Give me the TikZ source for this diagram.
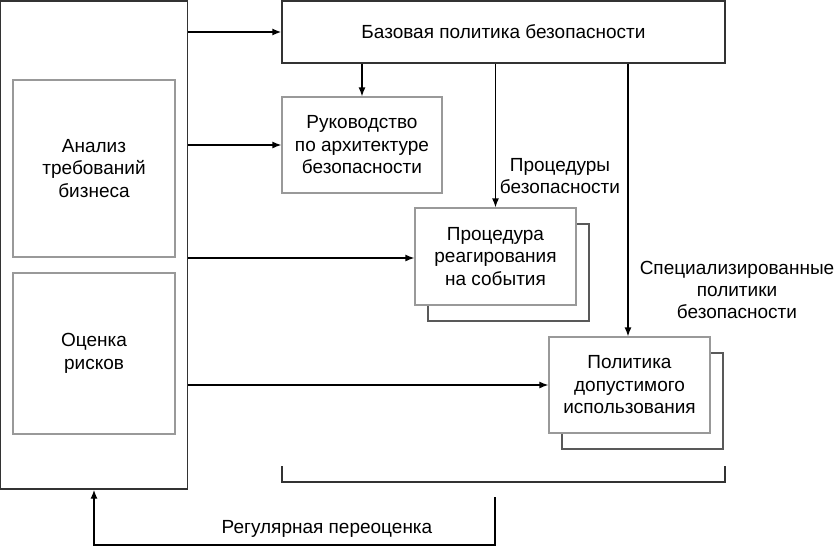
\documentclass[tikz,border=0pt]{standalone}
\usepackage{fontspec}
\setmainfont{Liberation Sans}
\usepackage{xcolor}
\usetikzlibrary{arrows.meta,positioning}
\definecolor{framegray}{gray}{0.6}
\definecolor{backgray}{gray}{0.35}
\tikzset{
  block/.style={rectangle,draw=framegray,line width=1.2pt,fill=white,align=center,
    inner sep=0pt,font=\fontsize{19}{22.5}\selectfont},
  mainblock/.style={block,draw=black!80,line width=1.4pt},
  backblock/.style={rectangle,draw=backgray,line width=1.3pt,fill=white},
  tlabel/.style={align=center,font=\fontsize{19}{22}\selectfont},
  flow/.style={-{Latex[length=9pt,width=7pt]},line width=1.4pt},
  bracket/.style={line width=1.3pt,draw=black!80}
}
\begin{document}
\begin{tikzpicture}[x=1pt,y=-1pt]
  \useasboundingbox (0,0) rectangle (835,547);
  % left column
  \node[mainblock,minimum width=187pt,minimum height=488pt] (req) at (94,245) {};
  \node[block,minimum width=162pt,minimum height=177pt] (biz) at (94,168.5) {Анализ\\требований\\бизнеса};
  \node[block,minimum width=162pt,minimum height=161pt] (risk) at (94,353.5) {Оценка\\рисков};
  % policies
  \node[mainblock,minimum width=443pt,minimum height=62pt] (base) at (503.5,32) {Базовая политика безопасности};
  \node[block,minimum width=160pt,minimum height=96pt] (arch) at (362,145) {Руководство\\по архитектуре\\безопасности};
  \node[backblock,minimum width=161pt,minimum height=97pt] (procb) at (508.5,272.5) {};
  \node[block,minimum width=161pt,minimum height=97pt] (proc) at (495.5,256.5) {Процедура\\реагирования\\на события};
  \node[backblock,minimum width=161pt,minimum height=96pt] (useb) at (642.5,401) {};
  \node[block,minimum width=161pt,minimum height=96pt] (use) at (629.5,385) {Политика\\допустимого\\использования};
  % labels
  \node[tlabel] (lproc) at (560,176) {Процедуры\\безопасности};
  \node[tlabel] (lspec) at (737,290) {Специализированные\\политики\\безопасности};
  \node[tlabel] (lrev) at (327,529) {Регулярная переоценка};
  % bracket
  \coordinate (bl) at (282,466);
  \coordinate (br) at (725,466);
  \draw[bracket] (bl) -- (282,482) -- (725,482) -- (br);
  \coordinate (rv) at (495,497);
  \coordinate (rc) at (495,545);
  % arrows
  \draw[flow] (req.east |- base) -- (base.west);
  \draw[flow] (req.east |- arch) -- (arch.west);
  \draw[flow] (req.east |- 0,258) -- (proc.west |- 0,258);
  \draw[flow] (req.east |- use) -- (use.west);
  \draw[flow] (base.south -| arch) -- (arch.north);
  \draw[flow] (base.south -| proc) -- (proc.north);
  \draw[flow] (base.south -| 628,0) -- (use.north -| 628,0);
  \draw[flow] (rv) -- (rc) -- (rc -| 94,0) -- (req.south);
\end{tikzpicture}
\end{document}
